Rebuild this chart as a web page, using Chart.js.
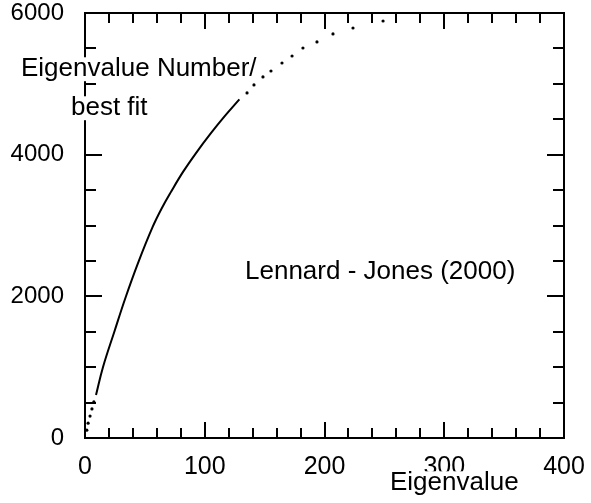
<!DOCTYPE html>
<html>
<head>
<meta charset="utf-8">
<script src="https://cdn.jsdelivr.net/npm/chart.js@4.4.1/dist/chart.umd.min.js"></script>
<style>
  html, body { margin: 0; padding: 0; background: #fff; }
  #wrap { width: 591px; height: 503px; position: relative; }
</style>
</head>
<body>
<div id="wrap"><canvas id="c" width="591" height="503"></canvas></div>
<script>
// ---- data ----
const xTickValues = [0, 100, 200, 300, 400];
const yTickValues = [0, 2000, 4000, 6000];

// dense part of the curve (drawn as a continuous line)
const fitX = [9.2, 15.0, 24.5, 33.8, 44.5, 56.5, 64.0, 72.0, 82.0, 93.0, 105.0, 116.5, 128.9];
const fitY = [607, 1000, 1500, 1980, 2480, 2980, 3240, 3480, 3760, 4030, 4300, 4540, 4780];

// sparse points near the origin
const lowX = [1.5, 2.6, 4.2, 5.8, 7.4];
const lowY = [110, 210, 310, 410, 510];

// sparse points after the dense part
const highX = [135.3, 141.1, 148.6, 155.3, 164.5, 172.9, 182.0, 193.7, 207.1, 223.8, 248.9];
const highY = [4871, 4984, 5097, 5181, 5294, 5393, 5506, 5591, 5704, 5788, 5887];

const annotation1 = "Eigenvalue Number/";
const annotation2 = "best fit";
const annotation3 = "Lennard - Jones (2000)";
const xTitle = "Eigenvalue";

const FONT = '"Liberation Sans", Arial, Helvetica, sans-serif';

function pts(xs, ys) { return xs.map((x, i) => ({ x: x, y: ys[i] })); }

const framePlugin = {
  id: 'frameTicks',
  afterDraw(chart) {
    const ctx = chart.ctx;
    const a = chart.chartArea;
    const xs = chart.scales.x, ys = chart.scales.y;
    ctx.save();
    ctx.strokeStyle = '#000';
    ctx.lineWidth = 2;
    ctx.lineCap = 'butt';
    // frame
    ctx.strokeRect(a.left, a.top, a.right - a.left, a.bottom - a.top);
    // x ticks (minor every 20, major every 100), inward on bottom and top
    ctx.beginPath();
    for (let v = 20; v < 400; v += 20) {
      const px = Math.round(xs.getPixelForValue(v));
      const len = (v % 100 === 0) ? 16 : 10;
      ctx.moveTo(px, a.bottom); ctx.lineTo(px, a.bottom - len);
      ctx.moveTo(px, a.top); ctx.lineTo(px, a.top + len);
    }
    // y ticks (minor every 500, major every 2000), inward on left and right
    for (let v = 500; v < 6000; v += 500) {
      const py = Math.round(ys.getPixelForValue(v));
      const len = (v % 2000 === 0) ? 17 : 11;
      ctx.moveTo(a.left, py); ctx.lineTo(a.left + len, py);
      ctx.moveTo(a.right, py); ctx.lineTo(a.right - len, py);
    }
    ctx.stroke();

    // text annotations with a tight white box behind them
    function label(txt, x, baseline, size) {
      ctx.font = size + 'px ' + FONT;
      ctx.textBaseline = 'alphabetic';
      ctx.textAlign = 'left';
      const w = ctx.measureText(txt).width;
      ctx.fillStyle = '#fff';
      ctx.fillRect(x, baseline - size * 0.72, w, size * 0.72 + size * 0.2);
      ctx.fillStyle = '#000';
      ctx.fillText(txt, x, baseline);
    }
    label(annotation1, 21, 76, 26);
    label(annotation2, 71, 115, 26);
    label(annotation3, 245, 279, 26);
    label(xTitle, 390, 490, 26);
    ctx.restore();
  }
};

function noPad(s) { s.paddingTop = 0; s.paddingBottom = 0; s.paddingLeft = 0; s.paddingRight = 0; }

new Chart(document.getElementById('c'), {
  type: 'scatter',
  data: {
    datasets: [
      {
        label: 'dense',
        data: pts(fitX, fitY),
        showLine: true,
        borderColor: '#000',
        borderWidth: 2,
        pointRadius: 0,
        tension: 0.4,
        fill: false
      },
      {
        label: 'low',
        data: pts(lowX, lowY),
        showLine: false,
        pointRadius: 1.6,
        pointBackgroundColor: '#000',
        pointBorderWidth: 0
      },
      {
        label: 'high',
        data: pts(highX, highY),
        showLine: false,
        pointRadius: 1.6,
        pointBackgroundColor: '#000',
        pointBorderWidth: 0
      }
    ]
  },
  options: {
    responsive: false,
    animation: false,
    devicePixelRatio: 1,
    layout: { padding: { left: 0, right: 27, top: 13, bottom: 0 } },
    plugins: { legend: { display: false }, tooltip: { enabled: false }, title: { display: false } },
    scales: {
      x: {
        type: 'linear', min: 0, max: 400,
        afterBuildTicks(s) { s.ticks = xTickValues.map(v => ({ value: v })); },
        afterFit(s) { s.height = 65; noPad(s); },
        grid: { display: false, drawTicks: false },
        border: { display: false },
        ticks: { color: '#000', padding: 14, maxRotation: 0, font: { family: FONT, size: 25 },
                 callback: v => String(v) }
      },
      y: {
        type: 'linear', min: 0, max: 6000,
        afterBuildTicks(s) { s.ticks = yTickValues.map(v => ({ value: v })); },
        afterFit(s) { s.width = 85; noPad(s); },
        grid: { display: false, drawTicks: false },
        border: { display: false },
        ticks: { color: '#000', padding: 21, font: { family: FONT, size: 24 },
                 callback: v => String(v) }
      }
    }
  },
  plugins: [framePlugin]
});
</script>
</body>
</html>
